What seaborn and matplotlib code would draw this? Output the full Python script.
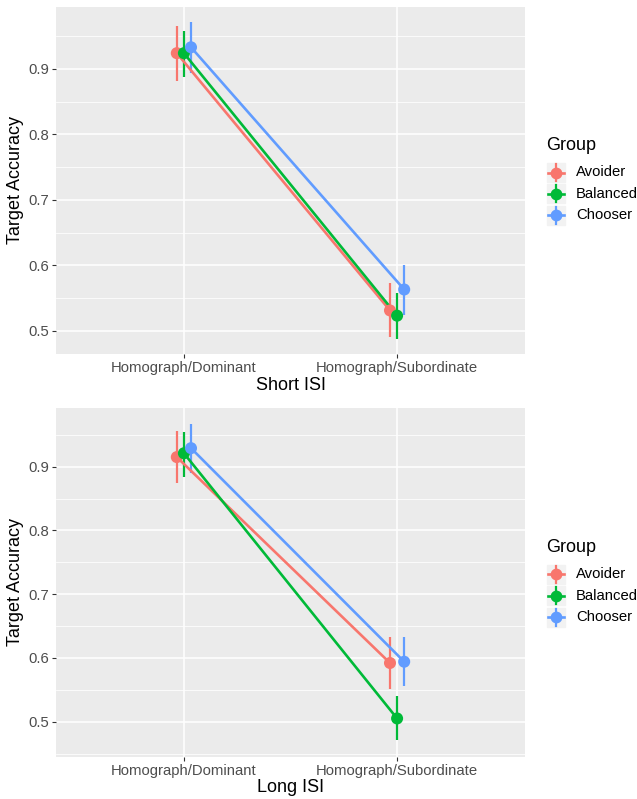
import numpy as np
import pandas as pd
import matplotlib
matplotlib.use('Agg')
import matplotlib.pyplot as plt
from matplotlib.patches import Rectangle
from matplotlib.lines import Line2D
import seaborn as sns

# Data
groups = ['Avoider', 'Balanced', 'Chooser']
conditions = ['Homograph/Dominant', 'Homograph/Subordinate']
colors = ['#F8766D', '#00BA38', '#619CFF']

short_mean = [[0.924, 0.531], [0.924, 0.523], [0.933, 0.563]]
short_lo = [[0.882, 0.490], [0.888, 0.488], [0.894, 0.524]]
short_hi = [[0.965, 0.573], [0.958, 0.558], [0.971, 0.600]]

long_mean = [[0.915, 0.592], [0.921, 0.505], [0.929, 0.594]]
long_lo = [[0.874, 0.551], [0.884, 0.471], [0.890, 0.556]]
long_hi = [[0.956, 0.632], [0.955, 0.541], [0.967, 0.632]]

W, H = 637, 799
FONT = 'Liberation Sans'
SMALL = 10.7


def to_frame(mean, lo, hi):
    rows = []
    for g, name in enumerate(groups):
        for c, cond in enumerate(conditions):
            rows.append({'Group': name, 'Condition': cond, 'cidx': c,
                         'gidx': g, 'acc': mean[g][c],
                         'lo': lo[g][c], 'hi': hi[g][c]})
    df = pd.DataFrame(rows)
    # position_dodge(width = 0.1)
    df['xpos'] = df['cidx'] + (df['gidx'] - 1) * 0.1 / 3
    return df


def fig_rect(x0, y0, x1, y1):
    # pixel box (top-left origin) -> figure fraction [l, b, w, h]
    return [x0 / W, 1 - y1 / H, (x1 - x0) / W, (y1 - y0) / H]


def draw_panel(ax, df, xlabel, ylim):
    ax.set_facecolor('#EBEBEB')
    for s in ax.spines.values():
        s.set_visible(False)
    ax.set_xlim(-0.6, 1.6)
    ax.set_ylim(*ylim)
    ax.set_axisbelow(True)
    major = [0.5, 0.6, 0.7, 0.8, 0.9]
    minor = [0.45, 0.55, 0.65, 0.75, 0.85, 0.95]
    for v in minor:
        ax.axhline(v, color='white', lw=0.55, zorder=0)
    for v in major:
        ax.axhline(v, color='white', lw=1.1, zorder=0)
    for v in range(len(conditions)):
        ax.axvline(v, color='white', lw=1.1, zorder=0)

    for g, name in enumerate(groups):
        sub = df[df['Group'] == name]
        ax.vlines(sub['xpos'], sub['lo'], sub['hi'], color=colors[g],
                  lw=1.6, zorder=2 + g)
    sns.lineplot(data=df, x='xpos', y='acc', hue='Group', palette=colors,
                 hue_order=groups, lw=1.9, legend=False, ax=ax, zorder=5)
    sns.scatterplot(data=df, x='xpos', y='acc', hue='Group', palette=colors,
                    hue_order=groups, s=75, edgecolor='none', legend=False,
                    ax=ax, zorder=6)

    ax.set_xticks(range(len(conditions)))
    ax.set_xticklabels(conditions, fontsize=SMALL, color='#4D4D4D', family=FONT)
    ax.set_yticks(major)
    ax.set_yticklabels(['0.5', '0.6', '0.7', '0.8', '0.9'], fontsize=SMALL,
                       color='#4D4D4D', family=FONT)
    ax.tick_params(length=3, width=0.8, color='#333333', pad=2)
    ax.set_xlabel(xlabel, fontsize=13, family=FONT, labelpad=1)
    ax.set_ylabel('Target Accuracy', fontsize=13, family=FONT, labelpad=3)


def draw_legend(fig, title_y, key_ys):
    tr = fig.transFigure
    fig.text(546 / W, 1 - title_y / H, 'Group', fontsize=13, family=FONT,
             va='center', ha='left')
    for g, name in enumerate(groups):
        cy = key_ys[g]
        cx = 556
        fig.patches.append(Rectangle((547 / W, 1 - (cy + 9.5) / H), 18 / W,
                                     19 / H, transform=tr, color='#F2F2F2',
                                     zorder=1))
        fig.lines.append(Line2D([548 / W, 564 / W], [1 - cy / H] * 2,
                                transform=tr, color=colors[g], lw=1.9))
        fig.lines.append(Line2D([cx / W] * 2, [1 - (cy - 8.5) / H, 1 - (cy + 8.5) / H],
                                transform=tr, color=colors[g], lw=1.6))
        fig.lines.append(Line2D([cx / W], [1 - cy / H], transform=tr,
                                marker='o', ms=8.5, color=colors[g],
                                markeredgewidth=0))
        fig.text(576 / W, 1 - cy / H, name, fontsize=SMALL, family=FONT,
                 va='center', ha='left')


fig = plt.figure(figsize=(W / 100, H / 100), dpi=100)
fig.patch.set_facecolor('white')

ax1 = fig.add_axes(fig_rect(56, 6.7, 525, 354.3))
draw_panel(ax1, to_frame(short_mean, short_lo, short_hi), 'Short ISI',
           (0.464, 0.995))
draw_legend(fig, 145, [172.5, 193.5, 215])

ax2 = fig.add_axes(fig_rect(56, 408, 525, 756.7))
draw_panel(ax2, to_frame(long_mean, long_lo, long_hi), 'Long ISI',
           (0.445, 0.992))
draw_legend(fig, 547, [574, 595.5, 617])

fig.savefig('out.png', dpi=100)
